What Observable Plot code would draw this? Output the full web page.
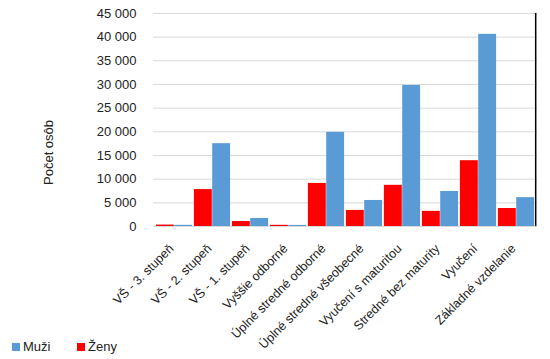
<!DOCTYPE html>
<html>
<head>
<meta charset="utf-8">
<script src="https://cdn.jsdelivr.net/npm/d3@7"></script>
<script src="https://cdn.jsdelivr.net/npm/@observablehq/plot@0.6"></script>
<style>
  html, body { margin: 0; padding: 0; background: #fff; }
  body { width: 550px; height: 359px; overflow: hidden; font-family: "Liberation Sans", Arial, sans-serif; }
  #chart svg { display: block; overflow: visible; }
  #legend { position: relative; height: 23px; font-size: 13px; color: #222; }
  .lg { position: absolute; top: 3px; display: flex; align-items: center; }
  .sw { width: 8px; height: 8px; display: inline-block; margin-right: 3px; }
</style>
</head>
<body>
<div id="chart"></div>
<div id="legend"></div>
<script>
const categories = [
  "VŠ - 3. stupeň",
  "VŠ - 2. stupeň",
  "VŠ - 1. stupeň",
  "Vyššie odborné",
  "Úplné stredné odborné",
  "Úplné stredné všeobecné",
  "Vyučení s maturitou",
  "Stredné bez maturity",
  "Vyučení",
  "Základné vzdelanie"
];
const zeny = [300, 7800, 1050, 250, 9100, 3400, 8700, 3200, 13900, 3800];
const muzi = [250, 17500, 1700, 230, 19900, 5500, 29800, 7400, 40600, 6100];
const legendOrder = ["Muži", "Ženy"];
const colors = {"Muži": "#5B9BD5", "Ženy": "#FF0000"};
const yTicks = [0, 5000, 10000, 15000, 20000, 25000, 30000, 35000, 40000, 45000];
const yLabel = "Počet osôb";

const W = 550, ML = 153, MR = 13;
const band = (W - ML - MR) / categories.length;
const gap = 0.9;

const fmt = d => d3.format(",")(d).replace(/,/g, " ");

const chart = Plot.plot({
  width: W,
  height: 336,
  marginTop: 13,
  marginBottom: 110,
  marginLeft: ML,
  marginRight: MR,
  style: {fontFamily: "'Liberation Sans', Arial, sans-serif", fontSize: "13px", color: "#222", background: "#fff", overflow: "visible"},
  x: {domain: categories, padding: 0, label: null},
  y: {domain: [0, 45000], label: null},
  marks: [
    Plot.gridY(yTicks, {stroke: "#d9d9d9", strokeOpacity: 1, strokeWidth: 1}),
    Plot.axisY(yTicks, {tickSize: 0, tickPadding: 17, tickFormat: fmt, label: null, fontSize: 13}),
    Plot.tickY(yTicks, {x: categories[categories.length - 1], y: d => d, dx: band / 2 - 2.5, insetLeft: band / 2 - 2.5, stroke: "#000"}),
    Plot.barY(categories, {x: d => d, y: (d, i) => zeny[i], fill: colors["Ženy"], insetLeft: gap, insetRight: band / 2}),
    Plot.barY(categories, {x: d => d, y: (d, i) => muzi[i], fill: colors["Muži"], insetLeft: band / 2, insetRight: gap}),
    Plot.ruleY([0], {stroke: "#d9d9d9", strokeWidth: 1}),
    Plot.ruleX([categories[categories.length - 1]], {y1: 0, y2: 45000, dx: band / 2, stroke: "#000", strokeWidth: 1.5}),
    Plot.axisX({tickRotate: -45, tickSize: 0, tickPadding: 20, dx: -3, label: null, fontSize: 12.5}),
    Plot.text([yLabel], {frameAnchor: "left", dx: -105, dy: 65, rotate: -90, fontSize: 13, fill: "#222"})
  ]
});
document.getElementById("chart").appendChild(chart);

const lg = document.getElementById("legend");
const lefts = [12, 77];
legendOrder.forEach((s, i) => {
  const d = document.createElement("div");
  d.className = "lg";
  d.style.left = lefts[i] + "px";
  d.innerHTML = `<span class="sw" style="background:${colors[s]}"></span><span>${s}</span>`;
  lg.appendChild(d);
});
</script>
</body>
</html>
